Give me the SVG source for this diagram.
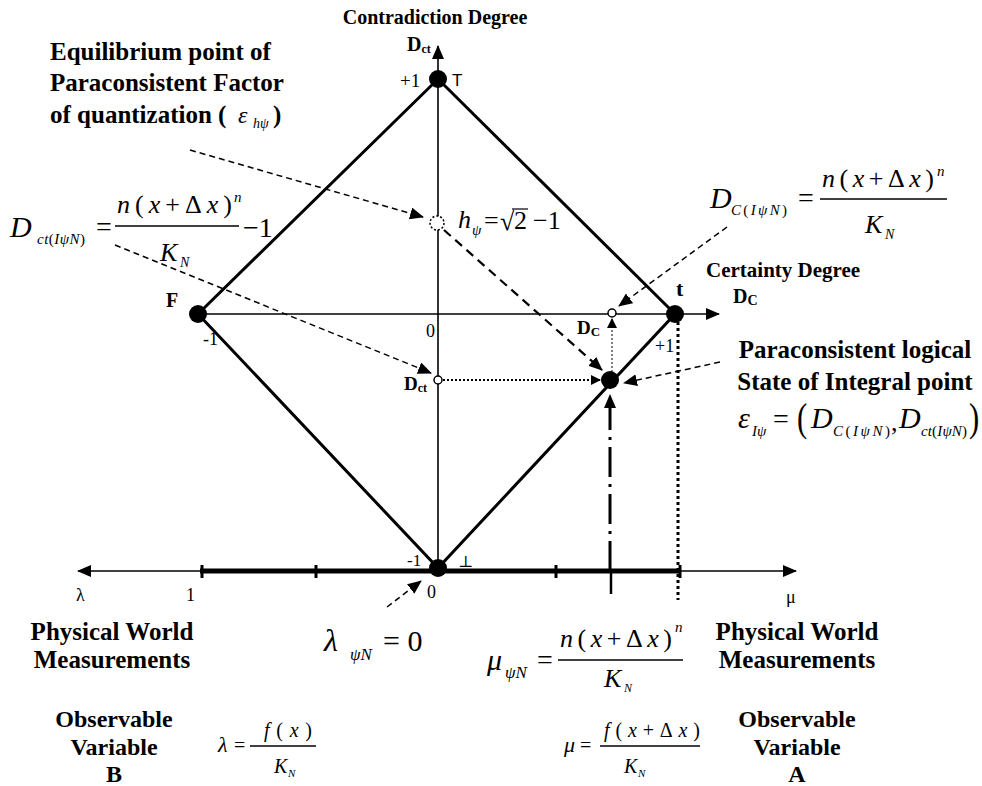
<svg xmlns="http://www.w3.org/2000/svg" width="982" height="786" viewBox="0 0 982 786" font-family="'Liberation Serif', 'Times New Roman', 'DejaVu Serif', serif">
<style>
text{font-family:'Liberation Serif','Times New Roman','DejaVu Serif',serif;fill:#000}
.b{font-weight:bold}
.i{font-style:italic}
.ax{stroke:#000;stroke-width:1.6;fill:none}
.dia{stroke:#000;stroke-width:3;fill:none}
.dash{stroke:#000;stroke-width:1.5;fill:none;stroke-dasharray:6 4}
.bar{stroke:#000;stroke-width:1.4}
</style>
<defs>
<marker id="ah" markerUnits="userSpaceOnUse" markerWidth="14" markerHeight="12" refX="13" refY="6" orient="auto"><path d="M0,0 L14,6 L0,12 z" fill="#000"/></marker>
<marker id="as" markerUnits="userSpaceOnUse" markerWidth="10" markerHeight="10" refX="9" refY="5" orient="auto"><path d="M0,0 L10,5 L0,10 z" fill="#000"/></marker>
</defs>
<rect width="982" height="786" fill="#fff"/>

<g id="connectors">
<line class="ax" x1="438" y1="568" x2="438" y2="46" marker-end="url(#ah)"/>
<line class="ax" x1="198" y1="314" x2="719" y2="314" marker-end="url(#ah)"/>
<polyline class="dia" points="198,314 438,79 675,314 438,568 198,314"/>
<line class="ax" x1="200" y1="571" x2="78" y2="571" marker-end="url(#ah)"/>
<line class="ax" x1="680" y1="571" x2="796" y2="571" marker-end="url(#ah)"/>
<line x1="200" y1="571" x2="680" y2="571" stroke="#000" stroke-width="5"/>
<g stroke="#000" stroke-width="3">
<line x1="202" y1="565" x2="202" y2="578"/>
<line x1="316" y1="565" x2="316" y2="578"/>
<line x1="556" y1="565" x2="556" y2="578"/>
<line x1="680" y1="565" x2="680" y2="578"/>
</g>
<line x1="610" y1="571" x2="610" y2="395" stroke="#000" stroke-width="3" stroke-dasharray="30 7 3 7" marker-end="url(#ah)"/>
<line x1="611" y1="571" x2="611" y2="594" stroke="#000" stroke-width="2.5"/>
<line x1="678" y1="322" x2="678" y2="600" stroke="#000" stroke-width="3" stroke-dasharray="3 3"/>
<line x1="612" y1="372" x2="612" y2="319" stroke="#000" stroke-width="1" stroke-dasharray="2 2" marker-end="url(#as)"/>
<line x1="443" y1="380" x2="600" y2="380" stroke="#000" stroke-width="2" stroke-dasharray="2 2" marker-end="url(#as)"/>
<line class="dash" x1="190" y1="150" x2="423" y2="217" marker-end="url(#ah)"/>
<line class="dash" x1="115" y1="245" x2="431" y2="373" marker-end="url(#ah)"/>
<line x1="444" y1="230" x2="602" y2="370" stroke="#000" stroke-width="2.2" stroke-dasharray="9 6" marker-end="url(#ah)"/>
<line class="dash" x1="727" y1="227" x2="619" y2="306" marker-end="url(#ah)"/>
<line class="dash" x1="720" y1="362" x2="624" y2="383" marker-end="url(#ah)"/>
<line class="dash" x1="387" y1="607" x2="421" y2="581" marker-end="url(#ah)"/>
</g>

<g id="node-T"><circle cx="438" cy="79" r="9"/><text x="400" y="87" font-size="19">+1</text><text x="452" y="86" font-size="17" style="font-family:'Liberation Sans',Arial,sans-serif">T</text></g>
<g id="node-F"><circle cx="198" cy="314" r="9"/><text class="b" x="166" y="307" font-size="20">F</text><text x="203" y="345" font-size="18">-1</text></g>
<g id="node-t"><circle cx="675" cy="314" r="9"/><text class="b" x="676" y="296" font-size="22">t</text><text x="655" y="352" font-size="18">+1</text></g>
<g id="node-bottom"><circle cx="438" cy="568" r="9"/><text x="407" y="566" font-size="17">-1</text><text x="458" y="567" font-size="16">⊥</text></g>
<g id="node-integral"><circle cx="610" cy="380" r="9"/></g>
<g id="node-Dct"><circle cx="438" cy="380" r="4" fill="#fff" stroke="#000" stroke-width="1.5"/><text class="b" x="404" y="390" font-size="19">D<tspan font-size="12" dy="2">ct</tspan></text></g>
<g id="node-DC"><circle cx="612" cy="313" r="4" fill="#fff" stroke="#000" stroke-width="1.5"/><text class="b" x="577" y="334" font-size="19">D<tspan font-size="13" dy="2">C</tspan></text></g>
<g id="node-h"><circle cx="437" cy="223" r="7" fill="#fff" stroke="#000" stroke-width="1.5" stroke-dasharray="2 2"/></g>

<g id="labels">
<text class="b" x="435" y="24" font-size="20" text-anchor="middle">Contradiction Degree</text>
<text class="b" x="407" y="51" font-size="20">D<tspan font-size="12" dy="2">ct</tspan></text>
<text x="426" y="337" font-size="18">0</text>
<text class="b" x="706" y="277" font-size="21">Certainty Degree</text>
<text class="b" x="733" y="303" font-size="20">D<tspan font-size="14" dy="2">C</tspan></text>

<text class="b" x="50" y="60" font-size="25">Equilibrium point of</text>
<text class="b" x="50" y="91" font-size="25">Paraconsistent Factor</text>
<text class="b" x="50" y="123" font-size="25">of quantization (</text>
<text class="i" x="238" y="123" font-size="24">ε</text>
<text class="i" x="253" y="128" font-size="14">hψ</text>
<text class="b" x="273" y="123" font-size="25">)</text>

<text class="i" x="10" y="237" font-size="30">D</text>
<text class="i" x="37" y="244" font-size="15" textLength="48" lengthAdjust="spacing">ct<tspan font-style="normal">(</tspan>IψN<tspan font-style="normal">)</tspan></text>
<text x="96" y="236" font-size="28">=</text>
<text x="117" y="213" font-size="26" textLength="115" lengthAdjust="spacing"><tspan class="i">n</tspan>(<tspan class="i">x</tspan>+Δ<tspan class="i">x</tspan>)</text>
<text class="i" x="234" y="202" font-size="15">n</text>
<line class="bar" x1="115" y1="226" x2="239" y2="226"/>
<text class="i" x="160" y="261" font-size="26">K</text>
<text class="i" x="180" y="267" font-size="14">N</text>
<text x="243" y="237" font-size="28">−1</text>

<text class="i" x="710" y="208" font-size="30">D</text>
<text class="i" x="731" y="215" font-size="15" textLength="56" lengthAdjust="spacing">C<tspan font-style="normal">(</tspan>IψN<tspan font-style="normal">)</tspan></text>
<text x="798" y="207" font-size="28">=</text>
<text x="822" y="187" font-size="26" textLength="112" lengthAdjust="spacing"><tspan class="i">n</tspan>(<tspan class="i">x</tspan>+Δ<tspan class="i">x</tspan>)</text>
<text class="i" x="937" y="176" font-size="15">n</text>
<line class="bar" x1="820" y1="199" x2="947" y2="199"/>
<text class="i" x="865" y="233" font-size="26">K</text>
<text class="i" x="885" y="239" font-size="14">N</text>

<text class="i" x="458" y="228" font-size="26">h</text>
<text class="i" x="472" y="235" font-size="15">ψ</text>
<text x="484" y="229" font-size="26">=</text>
<text x="500" y="230" font-size="26">√</text>
<line x1="512" y1="209" x2="528" y2="209" stroke="#000" stroke-width="1.2"/>
<text x="514" y="229" font-size="26">2</text>
<text x="533" y="229" font-size="26">−1</text>

<text class="b" x="855" y="358" font-size="25" text-anchor="middle">Paraconsistent logical</text>
<text class="b" x="855" y="390" font-size="25" text-anchor="middle">State of Integral point</text>
<text class="i" x="738" y="428" font-size="30">ε</text>
<text class="i" x="752" y="436" font-size="15">Iψ</text>
<text x="773" y="428" font-size="28">=</text>
<text x="797" y="431" font-size="34" transform="translate(797,431) scale(0.9,1.2) translate(-797,-431)">(</text>
<text class="i" x="811" y="428" font-size="30">D</text>
<text class="i" x="833" y="436" font-size="15" textLength="57" lengthAdjust="spacing">C<tspan font-style="normal">(</tspan>IψN<tspan font-style="normal">)</tspan></text>
<text x="891" y="431" font-size="26">,</text>
<text class="i" x="899" y="428" font-size="30">D</text>
<text class="i" x="921" y="436" font-size="15" textLength="46" lengthAdjust="spacing">ct<tspan font-style="normal">(</tspan>IψN<tspan font-style="normal">)</tspan></text>
<text x="969" y="431" font-size="34" transform="translate(969,431) scale(0.9,1.2) translate(-969,-431)">)</text>

<text x="76" y="601" font-size="18">λ</text>
<text x="186" y="601" font-size="18">1</text>
<text x="427" y="598" font-size="18">0</text>
<text x="786" y="603" font-size="18">μ</text>

<text class="b" x="112" y="640" font-size="25" text-anchor="middle">Physical World</text>
<text class="b" x="112" y="668" font-size="25" text-anchor="middle">Measurements</text>
<text class="b" x="797" y="640" font-size="25" text-anchor="middle">Physical World</text>
<text class="b" x="797" y="668" font-size="25" text-anchor="middle">Measurements</text>
<text class="b" x="114" y="727" font-size="24" text-anchor="middle">Observable</text>
<text class="b" x="114" y="755" font-size="24" text-anchor="middle">Variable</text>
<text class="b" x="114" y="782" font-size="24" text-anchor="middle">B</text>
<text class="b" x="797" y="727" font-size="24" text-anchor="middle">Observable</text>
<text class="b" x="797" y="755" font-size="24" text-anchor="middle">Variable</text>
<text class="b" x="797" y="782" font-size="24" text-anchor="middle">A</text>

<text class="i" x="324" y="651" font-size="32">λ</text>
<text class="i" x="350" y="660" font-size="17">ψN</text>
<text x="383" y="651" font-size="30">= 0</text>

<text class="i" x="487" y="670" font-size="30">μ</text>
<text class="i" x="505" y="678" font-size="17">ψN</text>
<text x="537" y="669" font-size="28">=</text>
<text x="560" y="647" font-size="26" textLength="112" lengthAdjust="spacing"><tspan class="i">n</tspan>(<tspan class="i">x</tspan>+Δ<tspan class="i">x</tspan>)</text>
<text class="i" x="675" y="632" font-size="15">n</text>
<line class="bar" x1="558" y1="660" x2="683" y2="660"/>
<text class="i" x="604" y="687" font-size="26">K</text>
<text class="i" x="624" y="692" font-size="12">N</text>

<text class="i" x="218" y="752" font-size="22">λ</text>
<text x="234" y="752" font-size="20">=</text>
<text x="264" y="737" font-size="20" textLength="48" lengthAdjust="spacing"><tspan class="i">f</tspan>(<tspan class="i">x</tspan>)</text>
<line class="bar" x1="250" y1="746" x2="316" y2="746"/>
<text class="i" x="274" y="773" font-size="20">K</text>
<text class="i" x="288" y="777" font-size="11">N</text>

<text class="i" x="564" y="752" font-size="22">μ</text>
<text x="580" y="752" font-size="20">=</text>
<text x="604" y="737" font-size="20" textLength="96" lengthAdjust="spacing"><tspan class="i">f</tspan>(<tspan class="i">x</tspan>+Δ<tspan class="i">x</tspan>)</text>
<line class="bar" x1="600" y1="746" x2="700" y2="746"/>
<text class="i" x="624" y="773" font-size="20">K</text>
<text class="i" x="638" y="777" font-size="11">N</text>
</g>
</svg>
